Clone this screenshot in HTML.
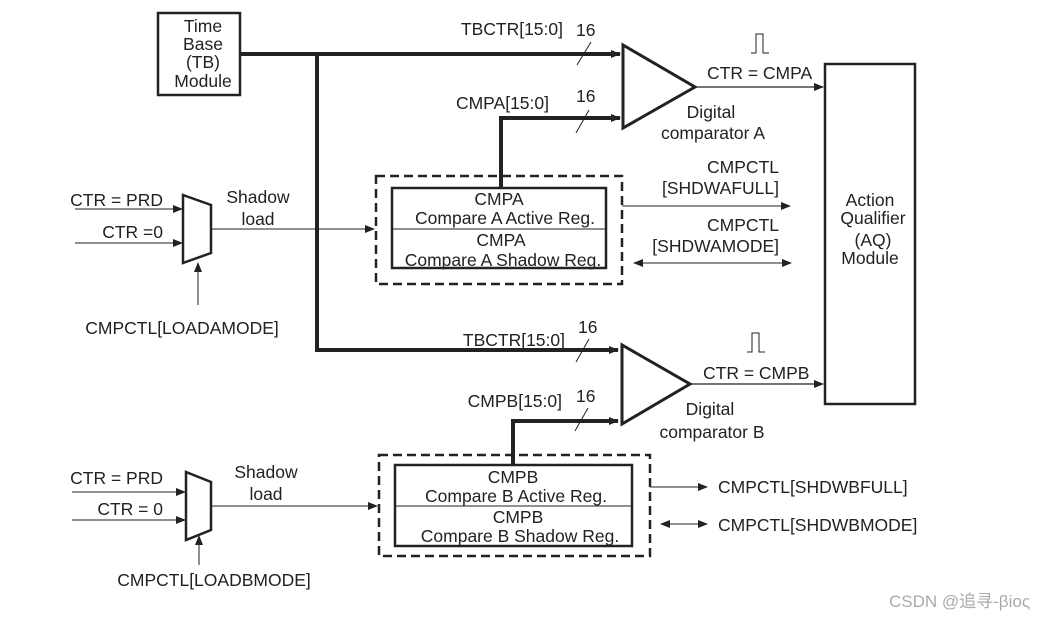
<!DOCTYPE html>
<html><head><meta charset="utf-8"><style>
html,body{margin:0;padding:0;background:#fff;width:1048px;height:619px;overflow:hidden}
svg{display:block}
text{font-family:"Liberation Sans",sans-serif;font-size:17.5px;fill:#222}
</style></head><body>
<svg width="1048" height="619" viewBox="0 0 1048 619">
<defs>
<marker id="a" markerWidth="10" markerHeight="8" refX="9" refY="4" orient="auto" markerUnits="userSpaceOnUse"><path d="M0,0 L10,4 L0,8 Z" fill="#222"/></marker>
<marker id="s" markerWidth="10" markerHeight="8" refX="1" refY="4" orient="auto" markerUnits="userSpaceOnUse"><path d="M10,0 L0,4 L10,8 Z" fill="#222"/></marker>
</defs>
<g stroke="#222" fill="none">
<rect x="158" y="13" width="82" height="82" stroke-width="2.5"/>
<path d="M240,54 H620" stroke-width="4" marker-end="url(#a)"/>
<path d="M317,54 V350 H618" stroke-width="4" marker-end="url(#a)"/>
<path d="M501,188 V118 H620" stroke-width="4" marker-end="url(#a)"/>
<path d="M513,465 V421 H618" stroke-width="4" marker-end="url(#a)"/>
<path d="M577,65 L591,42 M576,133 L589,110 M576,362 L589,339 M575,431 L588,408" stroke-width="1"/>
<polygon points="623,45 623,128 695,87" stroke-width="3"/>
<polygon points="622,345 622,424 690,384" stroke-width="3"/>
<path d="M695,87 H823" stroke-width="1.2" marker-end="url(#a)"/>
<path d="M690,384 H823" stroke-width="1.2" marker-end="url(#a)"/>
<path d="M751,53 H756 V34 H763 V53 H769" stroke-width="1"/>
<path d="M747,352 H752 V333 H759 V352 H765" stroke-width="1"/>
<rect x="825" y="64" width="90" height="340" stroke-width="2.5"/>
<rect x="376" y="176" width="246" height="108" stroke-width="2.5" stroke-dasharray="9,5"/>
<rect x="392" y="188" width="214" height="80" stroke-width="2.5"/>
<path d="M392,229 H606" stroke-width="1"/>
<rect x="379" y="455" width="271" height="101" stroke-width="2.5" stroke-dasharray="9,5"/>
<rect x="395" y="465" width="237" height="81" stroke-width="2.5"/>
<path d="M395,506 H632" stroke-width="1"/>
<polygon points="183,195 211,205 211,253 183,263" stroke-width="2.5"/>
<path d="M75,209 H182" stroke-width="1" marker-end="url(#a)"/>
<path d="M75,243 H182" stroke-width="1" marker-end="url(#a)"/>
<path d="M198,305 V263" stroke-width="1" marker-end="url(#a)"/>
<path d="M211,229 H374" stroke-width="1" marker-end="url(#a)"/>
<polygon points="186,472 211,482 211,530 186,540" stroke-width="2.5"/>
<path d="M72,492 H185" stroke-width="1" marker-end="url(#a)"/>
<path d="M72,520 H185" stroke-width="1" marker-end="url(#a)"/>
<path d="M199,565 V536" stroke-width="1" marker-end="url(#a)"/>
<path d="M211,506 H377" stroke-width="1" marker-end="url(#a)"/>
<path d="M622,206 H790" stroke-width="1" marker-end="url(#a)"/>
<path d="M634,263 H791" stroke-width="1" marker-start="url(#s)" marker-end="url(#a)"/>
<path d="M650,487 H707" stroke-width="1" marker-end="url(#a)"/>
<path d="M661,524 H707" stroke-width="1" marker-start="url(#s)" marker-end="url(#a)"/>
</g>
<g text-anchor="middle">
<text x="203" y="32">Time</text>
<text x="203" y="50">Base</text>
<text x="203" y="68">(TB)</text>
<text x="203" y="87">Module</text>
<text x="499" y="205">CMPA</text>
<text x="505" y="224">Compare A Active Reg.</text>
<text x="501" y="246">CMPA</text>
<text x="503" y="266">Compare A Shadow Reg.</text>
<text x="513" y="483">CMPB</text>
<text x="516" y="502">Compare B Active Reg.</text>
<text x="518" y="523">CMPB</text>
<text x="520" y="542">Compare B Shadow Reg.</text>
<text x="870" y="206">Action</text>
<text x="873" y="224">Qualifier</text>
<text x="873" y="246">(AQ)</text>
<text x="870" y="264">Module</text>
<text x="258" y="203">Shadow</text>
<text x="258" y="225">load</text>
<text x="266" y="478">Shadow</text>
<text x="266" y="500">load</text>
<text x="182" y="334">CMPCTL[LOADAMODE]</text>
<text x="214" y="586">CMPCTL[LOADBMODE]</text>
<text x="711" y="118">Digital</text>
<text x="713" y="139">comparator A</text>
<text x="710" y="415">Digital</text>
<text x="712" y="438">comparator B</text>
</g>
<g text-anchor="end">
<text x="563" y="35">TBCTR[15:0]</text>
<text x="549" y="109">CMPA[15:0]</text>
<text x="565" y="346">TBCTR[15:0]</text>
<text x="562" y="407">CMPB[15:0]</text>
<text x="163" y="206">CTR = PRD</text>
<text x="163" y="238">CTR =0</text>
<text x="163" y="484">CTR = PRD</text>
<text x="163" y="515">CTR = 0</text>
<text x="779" y="173">CMPCTL</text>
<text x="779" y="194">[SHDWAFULL]</text>
<text x="779" y="231">CMPCTL</text>
<text x="779" y="252">[SHDWAMODE]</text>
</g>
<text x="576" y="36">16</text>
<text x="576" y="102">16</text>
<text x="578" y="333">16</text>
<text x="576" y="402">16</text>
<text x="707" y="79">CTR = CMPA</text>
<text x="703" y="379">CTR = CMPB</text>
<text x="718" y="493">CMPCTL[SHDWBFULL]</text>
<text x="718" y="531">CMPCTL[SHDWBMODE]</text>
<text x="889" y="607" style="font-family:'Liberation Sans','Noto Sans CJK SC',sans-serif;font-size:17px;fill:#aaa">CSDN @追寻-βioς</text>
</svg>
</body></html>
